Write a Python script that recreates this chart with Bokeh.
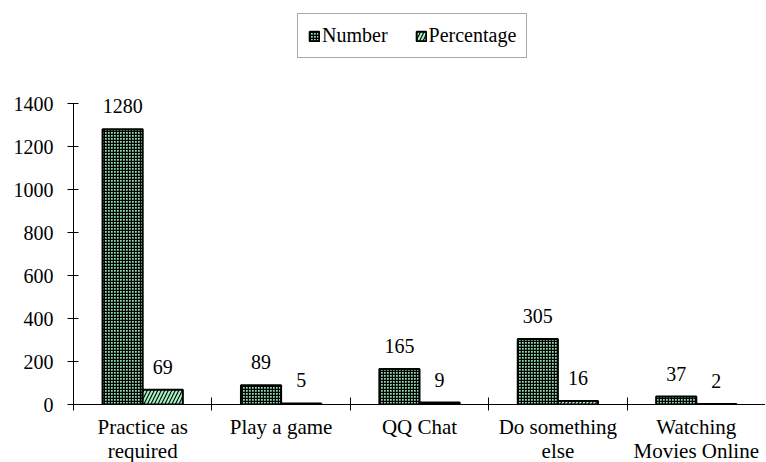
from bokeh.plotting import figure
from bokeh.models import (ColumnDataSource, Range1d, FixedTicker, Legend, LegendItem,
                          LinearAxis)
from bokeh.core.properties import value
from bokeh.embed import file_html
from bokeh.resources import INLINE

categories = ["Practice as\nrequired", "Play a game", "QQ Chat", "Do something\nelse", "Watching\nMovies Online"]
number = [1280, 89, 165, 305, 37]
percentage = [69, 5, 9, 16, 2]
y_ticks = [0, 200, 400, 600, 800, 1000, 1200, 1400]

FONT = "Liberation Serif"
BAR_W = 0.29

# the value axis covers 0..1400 over 301 px; the frame extends above it
# (404 px tall) so that the legend fits inside the frame
AXIS_MAX = 1400
AXIS_PX = 301
FRAME_PX = 404
Y_MAX = AXIS_MAX * FRAME_PX / AXIS_PX

idx = list(range(len(categories)))
src = ColumnDataSource(dict(
    xn=[i + 0.5 - BAR_W / 2 for i in idx],
    xp=[i + 0.5 + BAR_W / 2 for i in idx],
    number=number,
    percentage=percentage,
    ln=[str(v) for v in number],
    lp=[str(v) for v in percentage],
))

p = figure(frame_width=692, frame_height=FRAME_PX, output_backend="svg", toolbar_location=None,
           x_range=Range1d(0, len(categories)), y_range=Range1d(0, Y_MAX),
           min_border_left=73, min_border_right=0, min_border_top=0, min_border_bottom=58,
           x_axis_type=None, y_axis_type=None)
p.grid.visible = False
p.outline_line_color = None
p.background_fill_color = "white"
p.border_fill_color = "white"

rn = p.vbar(x="xn", top="number", width=BAR_W, bottom=0, source=src,
            fill_color="#8fe0ac", line_color="black", line_width=2,
            hatch_pattern="cross", hatch_color="black", hatch_scale=3, hatch_weight=1.5)
rp = p.vbar(x="xp", top="percentage", width=BAR_W, bottom=0, source=src,
            fill_color="#aaf2c4", line_color="black", line_width=2,
            hatch_pattern="right_diagonal_line", hatch_color="black", hatch_scale=7, hatch_weight=1.1)

p.text(x="xn", y="number", text="ln", source=src, text_align="center", text_baseline="alphabetic",
       y_offset=-23, text_font=value(FONT), text_font_size="20px", text_color="black")
p.text(x="xp", y="percentage", text="lp", source=src, text_align="center", text_baseline="alphabetic",
       y_offset=-23, text_font=value(FONT), text_font_size="20px", text_color="black")

# y axis
yax = LinearAxis(ticker=FixedTicker(ticks=y_ticks, minor_ticks=[]), bounds=(0, AXIS_MAX))
yax.axis_line_color = "black"
yax.axis_line_width = 1
yax.major_tick_in = 5
yax.major_tick_out = 6
yax.major_tick_line_color = "black"
yax.minor_tick_line_color = None
yax.major_label_standoff = 14
yax.major_label_text_font = FONT
yax.major_label_text_font_size = "20px"
yax.major_label_text_color = "black"
p.add_layout(yax, "left")

# x axis: labels at centres, tick marks at category boundaries
xax = LinearAxis(ticker=FixedTicker(ticks=[i + 0.5 for i in idx],
                                    minor_ticks=list(range(len(categories) + 1))))
xax.major_label_overrides = {i + 0.5: c for i, c in enumerate(categories)}
xax.axis_line_color = "black"
xax.axis_line_width = 1
xax.major_tick_line_color = None
xax.major_tick_in = 0
xax.major_tick_out = 0
xax.minor_tick_line_color = "black"
xax.minor_tick_in = 7
xax.minor_tick_out = 6
xax.major_label_standoff = 4
xax.major_label_text_font = FONT
xax.major_label_text_font_size = "21px"
xax.major_label_text_color = "black"
xax.major_label_text_line_height = 1.0
p.add_layout(xax, "below")

legend = Legend(items=[LegendItem(label="Number", renderers=[rn]),
                       LegendItem(label="Percentage", renderers=[rp])],
                orientation="horizontal", location=(224, 346))
legend.label_text_font = FONT
legend.label_text_font_size = "20px"
legend.label_text_color = "black"
legend.glyph_width = 12
legend.glyph_height = 12
legend.label_standoff = 2
legend.spacing = 27
legend.padding = 10
legend.margin = 0
legend.border_line_color = "#555555"
legend.border_line_width = 1
legend.label_height = 18
legend.background_fill_color = "white"
p.add_layout(legend, "center")

open("out.html", "w").write(file_html(p, INLINE))
